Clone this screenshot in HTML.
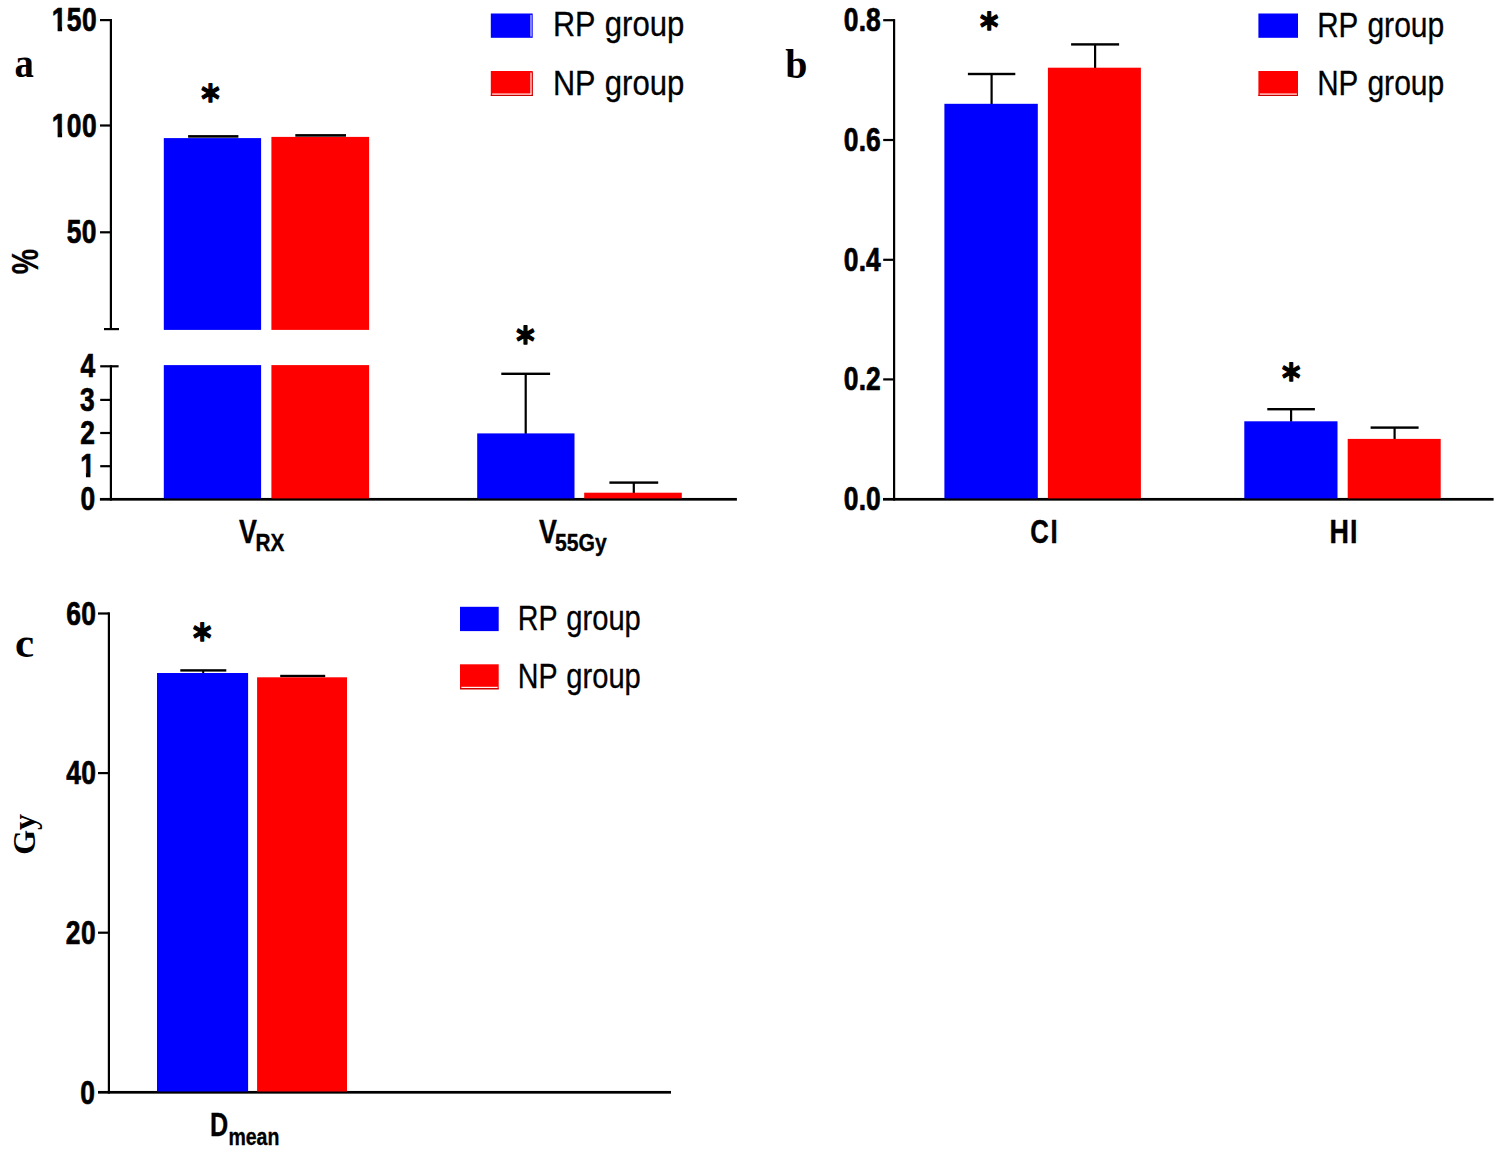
<!DOCTYPE html>
<html lang="en"><head><meta charset="utf-8"><title>Figure: RP group vs NP group</title>
<style>
html,body{margin:0;padding:0;background:#fff;}
body{width:1498px;height:1154px;overflow:hidden;}
svg{display:block;}
text{fill:#000;}
</style></head><body>
<svg width="1498" height="1154" viewBox="0 0 1498 1154">
<rect width="1498" height="1154" fill="#fff"/>
<rect x="109.80" y="19.00" width="2.20" height="310.00" fill="#000"/>
<rect x="104.00" y="328.00" width="15.00" height="2.20" fill="#000"/>
<rect x="100.00" y="19.00" width="10.90" height="2.20" fill="#000"/>
<rect x="100.00" y="124.40" width="10.90" height="2.20" fill="#000"/>
<rect x="100.00" y="231.20" width="10.90" height="2.20" fill="#000"/>
<rect x="109.80" y="365.20" width="2.20" height="135.40" fill="#000"/>
<rect x="100.20" y="365.20" width="18.40" height="2.20" fill="#000"/>
<rect x="100.20" y="398.80" width="10.70" height="2.20" fill="#000"/>
<rect x="100.20" y="431.90" width="10.70" height="2.20" fill="#000"/>
<rect x="100.20" y="465.10" width="10.70" height="2.20" fill="#000"/>
<rect x="99.90" y="497.95" width="637.00" height="2.70" fill="#000"/>
<rect x="163.80" y="138.10" width="97.30" height="191.80" fill="#0000fe"/>
<rect x="271.40" y="136.90" width="97.70" height="193.00" fill="#fe0000"/>
<rect x="163.80" y="365.10" width="97.30" height="133.30" fill="#0000fe"/>
<rect x="271.40" y="365.10" width="97.70" height="133.30" fill="#fe0000"/>
<rect x="188.10" y="135.10" width="50.30" height="2.60" fill="#000"/>
<rect x="295.30" y="134.10" width="50.70" height="2.60" fill="#000"/>
<rect x="524.60" y="373.80" width="2.20" height="60.10" fill="#000"/>
<rect x="501.30" y="372.60" width="48.80" height="2.40" fill="#000"/>
<rect x="632.70" y="482.60" width="2.20" height="10.60" fill="#000"/>
<rect x="609.40" y="481.40" width="48.80" height="2.40" fill="#000"/>
<rect x="477.20" y="433.40" width="97.30" height="65.00" fill="#0000fe"/>
<rect x="584.20" y="492.70" width="97.60" height="5.70" fill="#fe0000"/>
<text transform="translate(97.00 31.10) scale(0.8000 1.0000)" font-family='"Liberation Sans", sans-serif' font-weight="bold" font-size="33.0" text-anchor="end"  stroke="#000" stroke-width="0.7" stroke-linejoin="round" letter-spacing="0.5">150</text>
<text transform="translate(97.00 136.70) scale(0.8000 1.0000)" font-family='"Liberation Sans", sans-serif' font-weight="bold" font-size="33.0" text-anchor="end"  stroke="#000" stroke-width="0.7" stroke-linejoin="round" letter-spacing="0.5">100</text>
<text transform="translate(96.90 243.10) scale(0.8000 1.0000)" font-family='"Liberation Sans", sans-serif' font-weight="bold" font-size="33.0" text-anchor="end"  stroke="#000" stroke-width="0.7" stroke-linejoin="round" letter-spacing="0.5">50</text>
<text transform="translate(95.30 377.30) scale(0.8000 1.0000)" font-family='"Liberation Sans", sans-serif' font-weight="bold" font-size="33.0" text-anchor="end"  stroke="#000" stroke-width="0.7" stroke-linejoin="round">4</text>
<text transform="translate(94.80 410.60) scale(0.8000 1.0000)" font-family='"Liberation Sans", sans-serif' font-weight="bold" font-size="33.0" text-anchor="end"  stroke="#000" stroke-width="0.7" stroke-linejoin="round">3</text>
<text transform="translate(95.00 444.40) scale(0.8000 1.0000)" font-family='"Liberation Sans", sans-serif' font-weight="bold" font-size="33.0" text-anchor="end"  stroke="#000" stroke-width="0.7" stroke-linejoin="round">2</text>
<text transform="translate(95.00 477.20) scale(0.8000 1.0000)" font-family='"Liberation Sans", sans-serif' font-weight="bold" font-size="33.0" text-anchor="end"  stroke="#000" stroke-width="0.7" stroke-linejoin="round">1</text>
<text transform="translate(95.20 509.80) scale(0.8000 1.0000)" font-family='"Liberation Sans", sans-serif' font-weight="bold" font-size="33.0" text-anchor="end"  stroke="#000" stroke-width="0.7" stroke-linejoin="round">0</text>
<text transform="translate(14.60 77.40) scale(0.9000 1.0000)" font-family='"Liberation Serif", serif' font-weight="bold" font-size="43" text-anchor="start" >a</text>
<text transform="translate(38.10 274.30) rotate(-90) scale(0.7750 1.0000)" font-family='"Liberation Sans", sans-serif' font-weight="bold" font-size="36.8" text-anchor="start"  stroke="#000" stroke-width="0.3" stroke-linejoin="round">%</text>
<text transform="translate(210.40 113.20) scale(0.9000 1.0000)" font-family='"DejaVu Sans", "Liberation Sans", sans-serif' font-weight="bold" font-size="39" text-anchor="middle"  stroke="#000" stroke-width="1.3" stroke-linejoin="round">*</text>
<text transform="translate(525.40 354.50) scale(0.9000 1.0000)" font-family='"DejaVu Sans", "Liberation Sans", sans-serif' font-weight="bold" font-size="39" text-anchor="middle"  stroke="#000" stroke-width="1.3" stroke-linejoin="round">*</text>
<text transform="translate(238.90 542.50) scale(0.7900 1.0000)" font-family='"Liberation Sans", sans-serif' font-weight="bold" font-size="34" text-anchor="start"  stroke="#000" stroke-width="0.4" stroke-linejoin="round">V</text>
<text transform="translate(255.40 551.40) scale(0.8960 1.0000)" font-family='"Liberation Sans", sans-serif' font-weight="bold" font-size="23.2" text-anchor="start"  stroke="#000" stroke-width="0.35" stroke-linejoin="round">RX</text>
<text transform="translate(538.90 542.50) scale(0.7900 1.0000)" font-family='"Liberation Sans", sans-serif' font-weight="bold" font-size="34" text-anchor="start"  stroke="#000" stroke-width="0.4" stroke-linejoin="round">V</text>
<text transform="translate(555.00 551.40) scale(0.9120 1.0000)" font-family='"Liberation Sans", sans-serif' font-weight="bold" font-size="23.2" text-anchor="start"  stroke="#000" stroke-width="0.35" stroke-linejoin="round">55Gy</text>
<rect x="490.80" y="13.50" width="41.90" height="24.30" fill="#0000fe"/>
<rect x="490.80" y="71.00" width="41.90" height="25.00" fill="#fe0000"/>
<rect x="490.80" y="94.80" width="41.90" height="1.20" fill="#c40000"/>
<rect x="492.10" y="93.50" width="39.50" height="1.20" fill="#fff2f2"/>
<rect x="531.60" y="72.20" width="1.10" height="23.80" fill="#c40000"/>
<rect x="530.40" y="72.60" width="1.20" height="22.10" fill="#fff2f2"/>
<rect x="530.40" y="14.90" width="1.20" height="21.60" fill="#d4d4ff"/>
<text y="36.30" font-family='"Liberation Sans", sans-serif' font-size="35" stroke="#000" stroke-width="0.3"><tspan x="552.90" textLength="42.00" lengthAdjust="spacingAndGlyphs">RP</tspan> <tspan x="604.80" textLength="79.60" lengthAdjust="spacingAndGlyphs">group</tspan></text>
<text y="94.50" font-family='"Liberation Sans", sans-serif' font-size="35" stroke="#000" stroke-width="0.3"><tspan x="552.90" textLength="42.00" lengthAdjust="spacingAndGlyphs">NP</tspan> <tspan x="604.80" textLength="79.60" lengthAdjust="spacingAndGlyphs">group</tspan></text>
<rect x="893.00" y="19.10" width="2.20" height="481.50" fill="#000"/>
<rect x="883.20" y="19.10" width="10.90" height="2.20" fill="#000"/>
<rect x="883.20" y="138.90" width="10.90" height="2.20" fill="#000"/>
<rect x="883.20" y="258.70" width="10.90" height="2.20" fill="#000"/>
<rect x="883.20" y="378.30" width="10.90" height="2.20" fill="#000"/>
<rect x="883.00" y="497.95" width="610.60" height="2.70" fill="#000"/>
<rect x="990.50" y="74.00" width="2.20" height="30.30" fill="#000"/>
<rect x="967.90" y="72.80" width="47.40" height="2.40" fill="#000"/>
<rect x="1094.00" y="44.40" width="2.20" height="23.80" fill="#000"/>
<rect x="1071.10" y="43.20" width="48.00" height="2.40" fill="#000"/>
<rect x="1290.00" y="409.20" width="2.20" height="12.60" fill="#000"/>
<rect x="1267.30" y="408.00" width="47.60" height="2.40" fill="#000"/>
<rect x="1393.50" y="427.60" width="2.20" height="11.80" fill="#000"/>
<rect x="1370.60" y="426.40" width="48.00" height="2.40" fill="#000"/>
<rect x="944.40" y="103.80" width="93.40" height="394.60" fill="#0000fe"/>
<rect x="1047.90" y="67.70" width="93.00" height="430.70" fill="#fe0000"/>
<rect x="1244.30" y="421.30" width="93.20" height="77.10" fill="#0000fe"/>
<rect x="1347.70" y="438.90" width="93.00" height="59.50" fill="#fe0000"/>
<text transform="translate(880.92 31.00) scale(0.8000 1.0000)" font-family='"Liberation Sans", sans-serif' font-weight="bold" font-size="33.0" text-anchor="end"  stroke="#000" stroke-width="0.7" stroke-linejoin="round" letter-spacing="0.15">0.8</text>
<text transform="translate(880.92 150.80) scale(0.8000 1.0000)" font-family='"Liberation Sans", sans-serif' font-weight="bold" font-size="33.0" text-anchor="end"  stroke="#000" stroke-width="0.7" stroke-linejoin="round" letter-spacing="0.15">0.6</text>
<text transform="translate(880.92 270.60) scale(0.8000 1.0000)" font-family='"Liberation Sans", sans-serif' font-weight="bold" font-size="33.0" text-anchor="end"  stroke="#000" stroke-width="0.7" stroke-linejoin="round" letter-spacing="0.15">0.4</text>
<text transform="translate(880.92 390.20) scale(0.8000 1.0000)" font-family='"Liberation Sans", sans-serif' font-weight="bold" font-size="33.0" text-anchor="end"  stroke="#000" stroke-width="0.7" stroke-linejoin="round" letter-spacing="0.15">0.2</text>
<text transform="translate(880.92 510.20) scale(0.8000 1.0000)" font-family='"Liberation Sans", sans-serif' font-weight="bold" font-size="33.0" text-anchor="end"  stroke="#000" stroke-width="0.7" stroke-linejoin="round" letter-spacing="0.15">0.0</text>
<text transform="translate(785.20 77.90) scale(0.9500 1.0000)" font-family='"Liberation Serif", serif' font-weight="bold" font-size="42" text-anchor="start" >b</text>
<text transform="translate(989.10 41.35) scale(0.9000 1.0000)" font-family='"DejaVu Sans", "Liberation Sans", sans-serif' font-weight="bold" font-size="39" text-anchor="middle"  stroke="#000" stroke-width="1.3" stroke-linejoin="round">*</text>
<text transform="translate(1291.20 392.40) scale(0.9000 1.0000)" font-family='"DejaVu Sans", "Liberation Sans", sans-serif' font-weight="bold" font-size="39" text-anchor="middle"  stroke="#000" stroke-width="1.3" stroke-linejoin="round">*</text>
<text transform="translate(1030.30 542.60) scale(0.7650 1.0000)" font-family='"Liberation Sans", sans-serif' font-weight="bold" font-size="33.6" text-anchor="start"  stroke="#000" stroke-width="0.4" stroke-linejoin="round" letter-spacing="2.0">CI</text>
<text transform="translate(1329.60 542.60) scale(0.8000 1.0000)" font-family='"Liberation Sans", sans-serif' font-weight="bold" font-size="33.6" text-anchor="start"  stroke="#000" stroke-width="0.4" stroke-linejoin="round" letter-spacing="1.2">HI</text>
<rect x="1258.40" y="13.50" width="39.60" height="24.30" fill="#0000fe"/>
<rect x="1258.40" y="71.00" width="39.60" height="25.00" fill="#fe0000"/>
<rect x="1258.40" y="94.80" width="39.60" height="1.20" fill="#c40000"/>
<rect x="1259.70" y="93.50" width="37.20" height="1.20" fill="#fff2f2"/>
<text y="36.80" font-family='"Liberation Sans", sans-serif' font-size="35" stroke="#000" stroke-width="0.3"><tspan x="1317.19" textLength="40.62" lengthAdjust="spacingAndGlyphs">RP</tspan> <tspan x="1367.38" textLength="76.98" lengthAdjust="spacingAndGlyphs">group</tspan></text>
<text y="94.90" font-family='"Liberation Sans", sans-serif' font-size="35" stroke="#000" stroke-width="0.3"><tspan x="1317.19" textLength="40.62" lengthAdjust="spacingAndGlyphs">NP</tspan> <tspan x="1367.38" textLength="76.98" lengthAdjust="spacingAndGlyphs">group</tspan></text>
<rect x="107.80" y="612.30" width="2.20" height="481.30" fill="#000"/>
<rect x="98.00" y="612.40" width="10.90" height="2.20" fill="#000"/>
<rect x="98.00" y="772.00" width="10.90" height="2.20" fill="#000"/>
<rect x="98.00" y="931.60" width="10.90" height="2.20" fill="#000"/>
<rect x="98.00" y="1090.95" width="573.00" height="2.70" fill="#000"/>
<rect x="180.30" y="669.20" width="46.00" height="2.40" fill="#000"/>
<rect x="280.20" y="674.80" width="45.00" height="2.40" fill="#000"/>
<rect x="202.20" y="670.40" width="2.00" height="2.90" fill="#000"/>
<rect x="157.00" y="673.00" width="91.10" height="418.50" fill="#0000fe"/>
<rect x="257.10" y="677.30" width="89.90" height="414.20" fill="#fe0000"/>
<text transform="translate(96.40 624.50) scale(0.8000 1.0000)" font-family='"Liberation Sans", sans-serif' font-weight="bold" font-size="33.0" text-anchor="end"  stroke="#000" stroke-width="0.7" stroke-linejoin="round" letter-spacing="0.5">60</text>
<text transform="translate(96.40 784.00) scale(0.8000 1.0000)" font-family='"Liberation Sans", sans-serif' font-weight="bold" font-size="33.0" text-anchor="end"  stroke="#000" stroke-width="0.7" stroke-linejoin="round" letter-spacing="0.5">40</text>
<text transform="translate(96.00 944.00) scale(0.8000 1.0000)" font-family='"Liberation Sans", sans-serif' font-weight="bold" font-size="33.0" text-anchor="end"  stroke="#000" stroke-width="0.7" stroke-linejoin="round" letter-spacing="0.5">20</text>
<text transform="translate(95.00 1104.00) scale(0.8000 1.0000)" font-family='"Liberation Sans", sans-serif' font-weight="bold" font-size="33.0" text-anchor="end"  stroke="#000" stroke-width="0.7" stroke-linejoin="round">0</text>
<text transform="translate(14.90 656.60)" font-family='"Liberation Serif", serif' font-weight="bold" font-size="43" text-anchor="start" >c</text>
<text transform="translate(34.80 854.80) rotate(-90)" font-family='"Liberation Serif", serif' font-weight="bold" font-size="32" text-anchor="start" >Gy</text>
<text transform="translate(202.30 652.30) scale(0.9000 1.0000)" font-family='"DejaVu Sans", "Liberation Sans", sans-serif' font-weight="bold" font-size="39" text-anchor="middle"  stroke="#000" stroke-width="1.3" stroke-linejoin="round">*</text>
<text transform="translate(210.00 1136.00) scale(0.7500 1.0000)" font-family='"Liberation Sans", sans-serif' font-weight="bold" font-size="33.6" text-anchor="start"  stroke="#000" stroke-width="0.4" stroke-linejoin="round">D</text>
<text transform="translate(228.40 1144.80) scale(0.8410 1.0000)" font-family='"Liberation Sans", sans-serif' font-weight="bold" font-size="23.2" text-anchor="start"  stroke="#000" stroke-width="0.35" stroke-linejoin="round">mean</text>
<rect x="460.00" y="606.80" width="38.70" height="24.30" fill="#0000fe"/>
<rect x="460.00" y="664.30" width="38.70" height="25.00" fill="#fe0000"/>
<rect x="460.00" y="688.10" width="38.70" height="1.20" fill="#c40000"/>
<rect x="461.30" y="686.80" width="36.30" height="1.20" fill="#fff2f2"/>
<text y="629.90" font-family='"Liberation Sans", sans-serif' font-size="35" stroke="#000" stroke-width="0.3"><tspan x="517.77" textLength="39.30" lengthAdjust="spacingAndGlyphs">RP</tspan> <tspan x="566.33" textLength="74.48" lengthAdjust="spacingAndGlyphs">group</tspan></text>
<text y="688.10" font-family='"Liberation Sans", sans-serif' font-size="35" stroke="#000" stroke-width="0.3"><tspan x="517.77" textLength="39.30" lengthAdjust="spacingAndGlyphs">NP</tspan> <tspan x="566.33" textLength="74.48" lengthAdjust="spacingAndGlyphs">group</tspan></text>
<rect x="51.40" y="27.00" width="6.22" height="5.20" fill="#fff"/>
<rect x="62.11" y="27.00" width="4.79" height="5.20" fill="#fff"/>
<rect x="51.40" y="133.00" width="6.22" height="5.20" fill="#fff"/>
<rect x="62.11" y="133.00" width="4.79" height="5.20" fill="#fff"/>
<rect x="80.40" y="473.00" width="5.53" height="5.20" fill="#fff"/>
<rect x="90.44" y="473.00" width="4.96" height="5.20" fill="#fff"/>
</svg>
</body></html>
